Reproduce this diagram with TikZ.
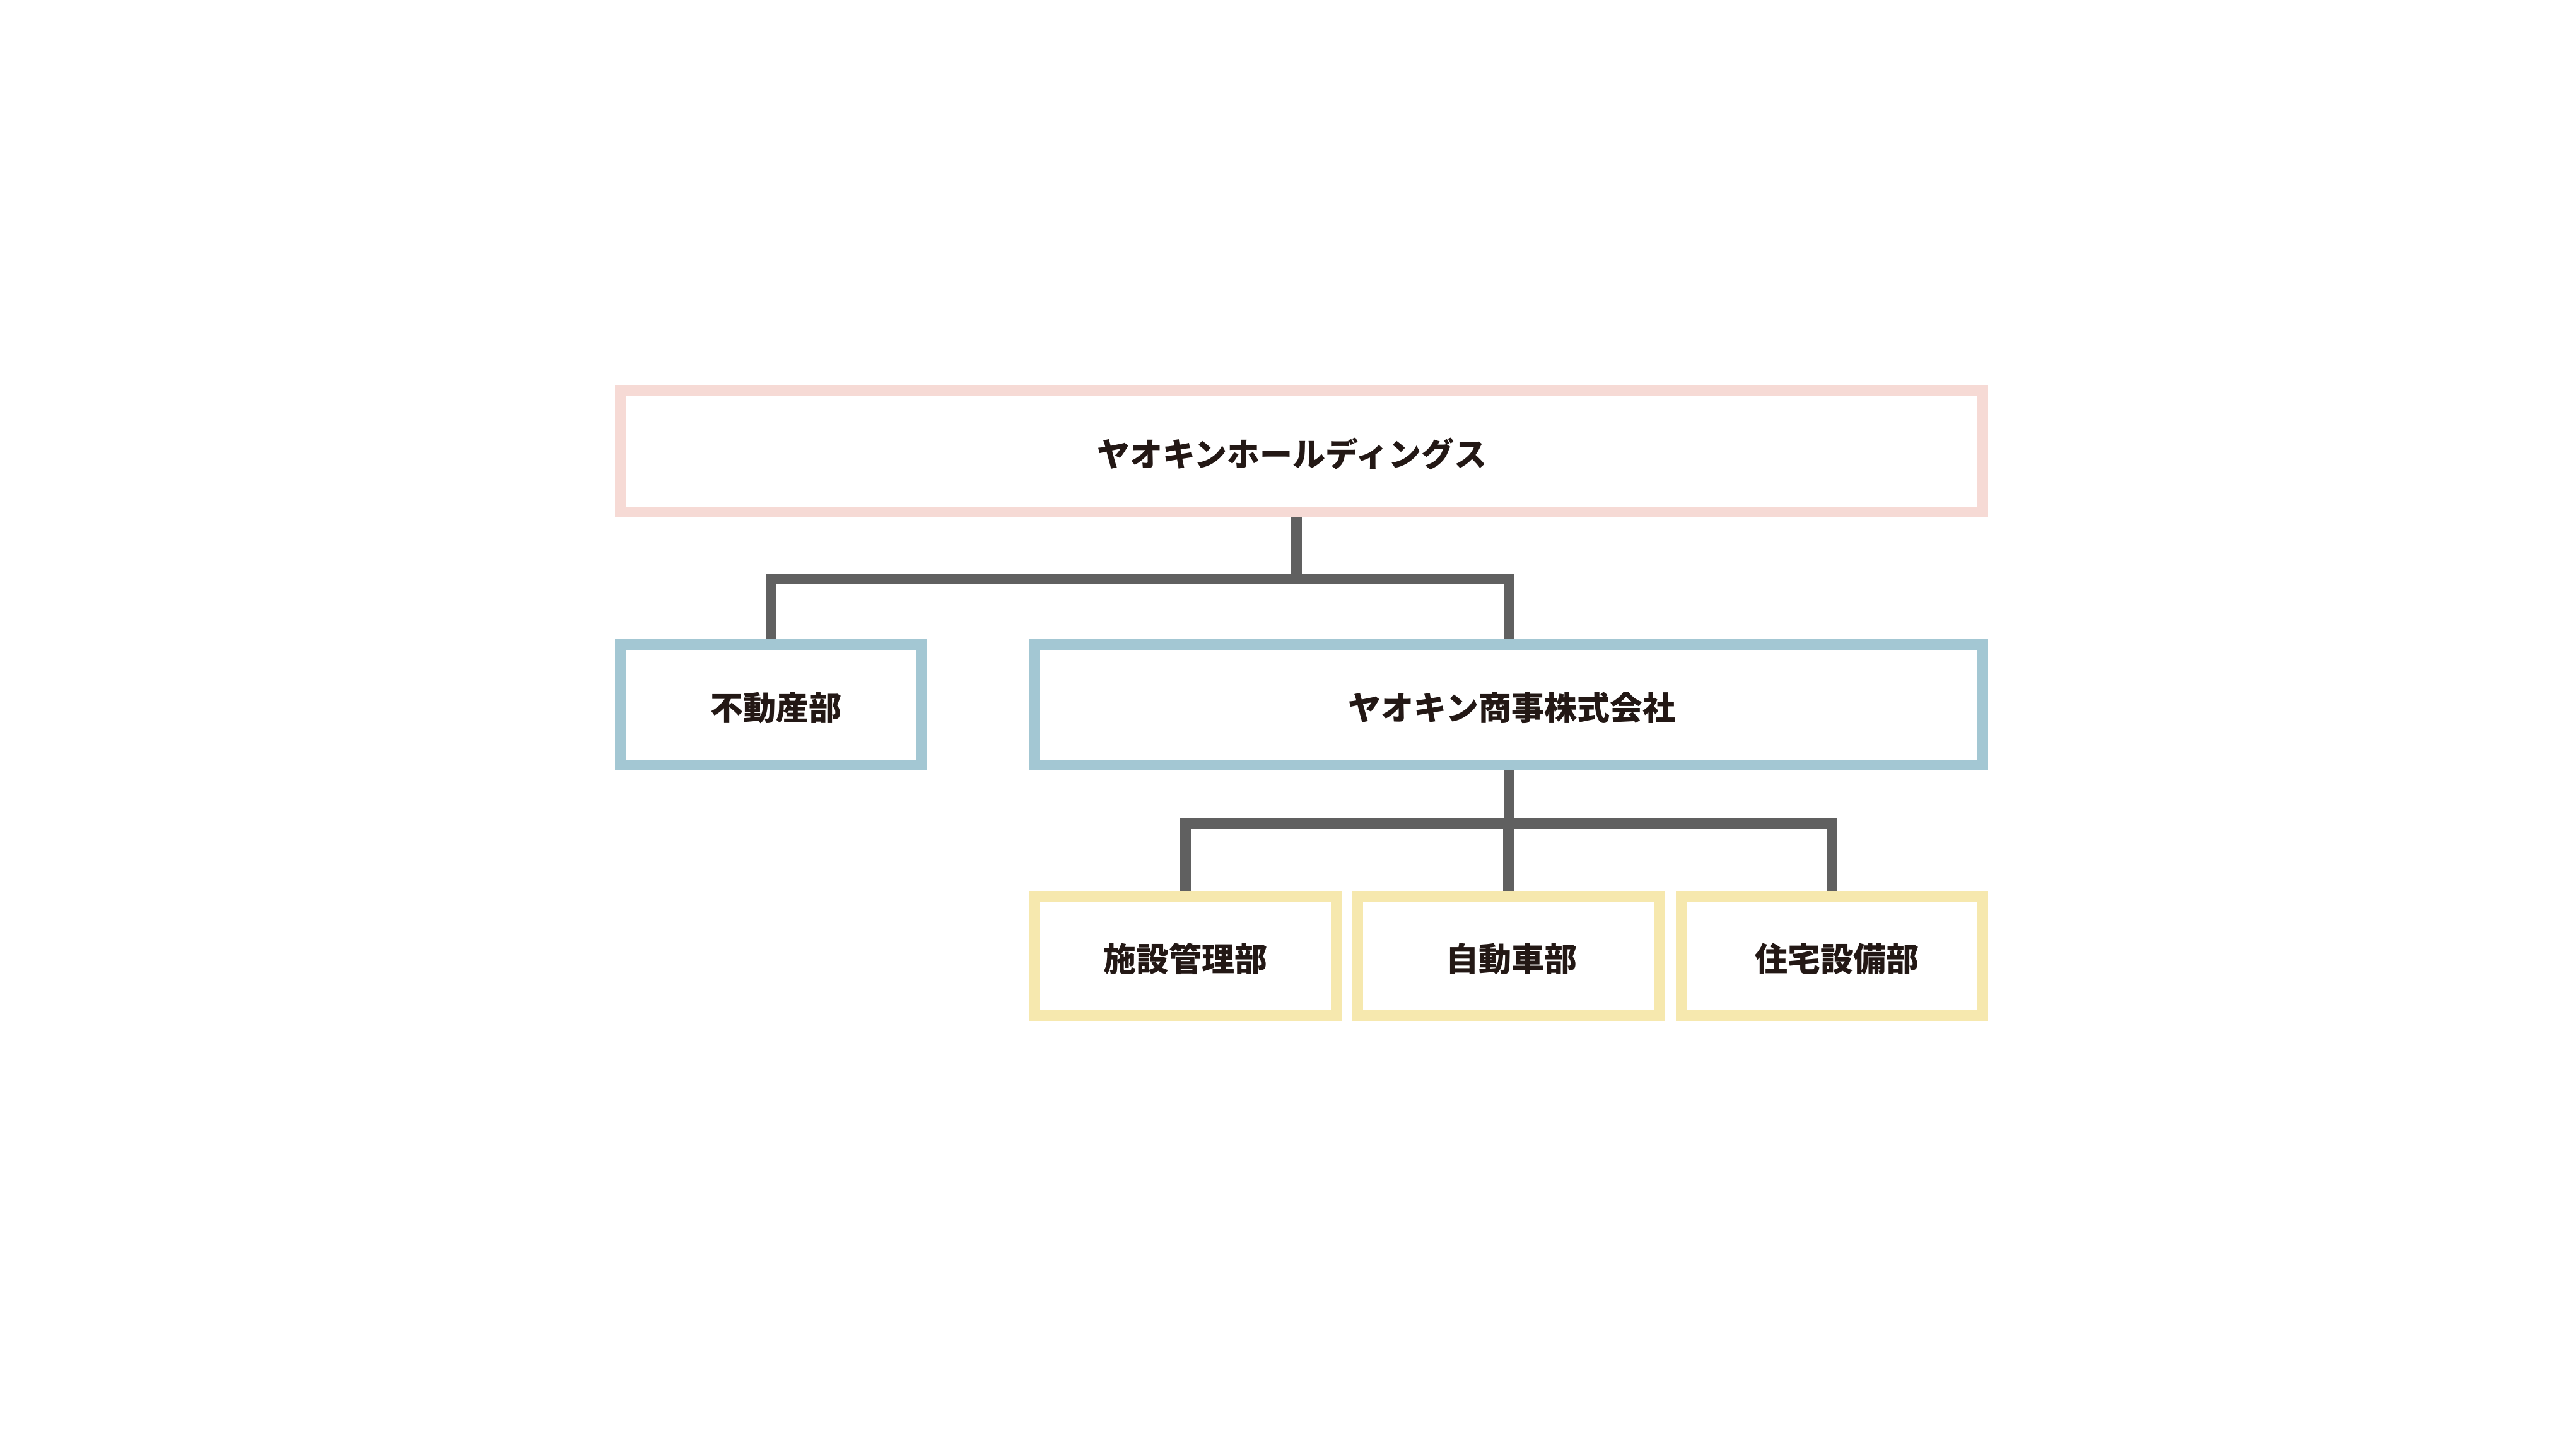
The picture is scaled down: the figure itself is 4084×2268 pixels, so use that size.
\documentclass[tikz,border=0pt]{standalone}
\usepackage{fontspec}
\newfontfamily\cjk{Noto Sans CJK JP}[BoldFont={Noto Sans CJK JP Black}]
\definecolor{pinkb}{HTML}{F6DAD5}
\definecolor{blueb}{HTML}{A3C7D3}
\definecolor{yellowb}{HTML}{F6E8AE}
\definecolor{connc}{HTML}{606060}
\definecolor{textc}{HTML}{231815}
\pgfdeclarelayer{paper}
\pgfdeclarelayer{lines}
\pgfsetlayers{paper,lines,main}
\tikzset{
  orgbox/.style={draw, line width=4.25pt, fill=white, inner sep=0pt, text=textc,
    font=\cjk\bfseries\fontsize{13pt}{15pt}\selectfont, line join=miter,
    text height=12.4pt, text depth=0pt},
  holdbox/.style={orgbox, draw=pinkb, minimum width=540pt, minimum height=48.25pt},
  compbox/.style={orgbox, draw=blueb, minimum height=47.75pt},
  deptbox/.style={orgbox, draw=yellowb, minimum width=119.5pt, minimum height=47.25pt},
  conn/.style={draw=connc, line width=4.25pt, line join=miter, line cap=butt}
}
\begin{document}
\begin{tikzpicture}[x=0.25pt, y=-0.25pt]
\begin{pgfonlayer}{paper}
\fill[white] (0,0) rectangle (4084,2268);
\end{pgfonlayer}
\useasboundingbox (0,0) rectangle (4084,2268);
\node[holdbox] (hold) at (2063.5,715) {\hspace*{-7.5pt}ヤオキンホールディングス};
\node[compbox, minimum width=119.5pt] (fudo) at (1222.5,1117) {\hspace*{4pt}不動産部};
\node[compbox, minimum width=375.75pt] (shoji) at (2392,1117) {\hspace*{2.5pt}ヤオキン商事株式会社};
\node[deptbox] (shisetsu) at (1879.5,1515) {施設管理部};
\node[deptbox] (jido) at (2391,1515) {\hspace*{2.5pt}自動車部};
\node[deptbox] (jutaku) at (2904.5,1515) {\hspace*{4pt}住宅設備部};
\coordinate (j1) at (2055,918);
\coordinate (j2) at (2392,1305);
\begin{pgfonlayer}{lines}
\draw[conn] (hold.center -| j1) -- (j1);
\draw[conn] (fudo.center) -- (fudo.center |- j1) -- (shoji.center |- j1) -- (shoji.center);
\draw[conn] (shoji.center) -- (j2);
\draw[conn] (shisetsu.center) -- (shisetsu.center |- j2) -- (jutaku.center |- j2) -- (jutaku.center);
\draw[conn] (jido.center) -- (jido.center |- j2);
\end{pgfonlayer}
\end{tikzpicture}
\end{document}
